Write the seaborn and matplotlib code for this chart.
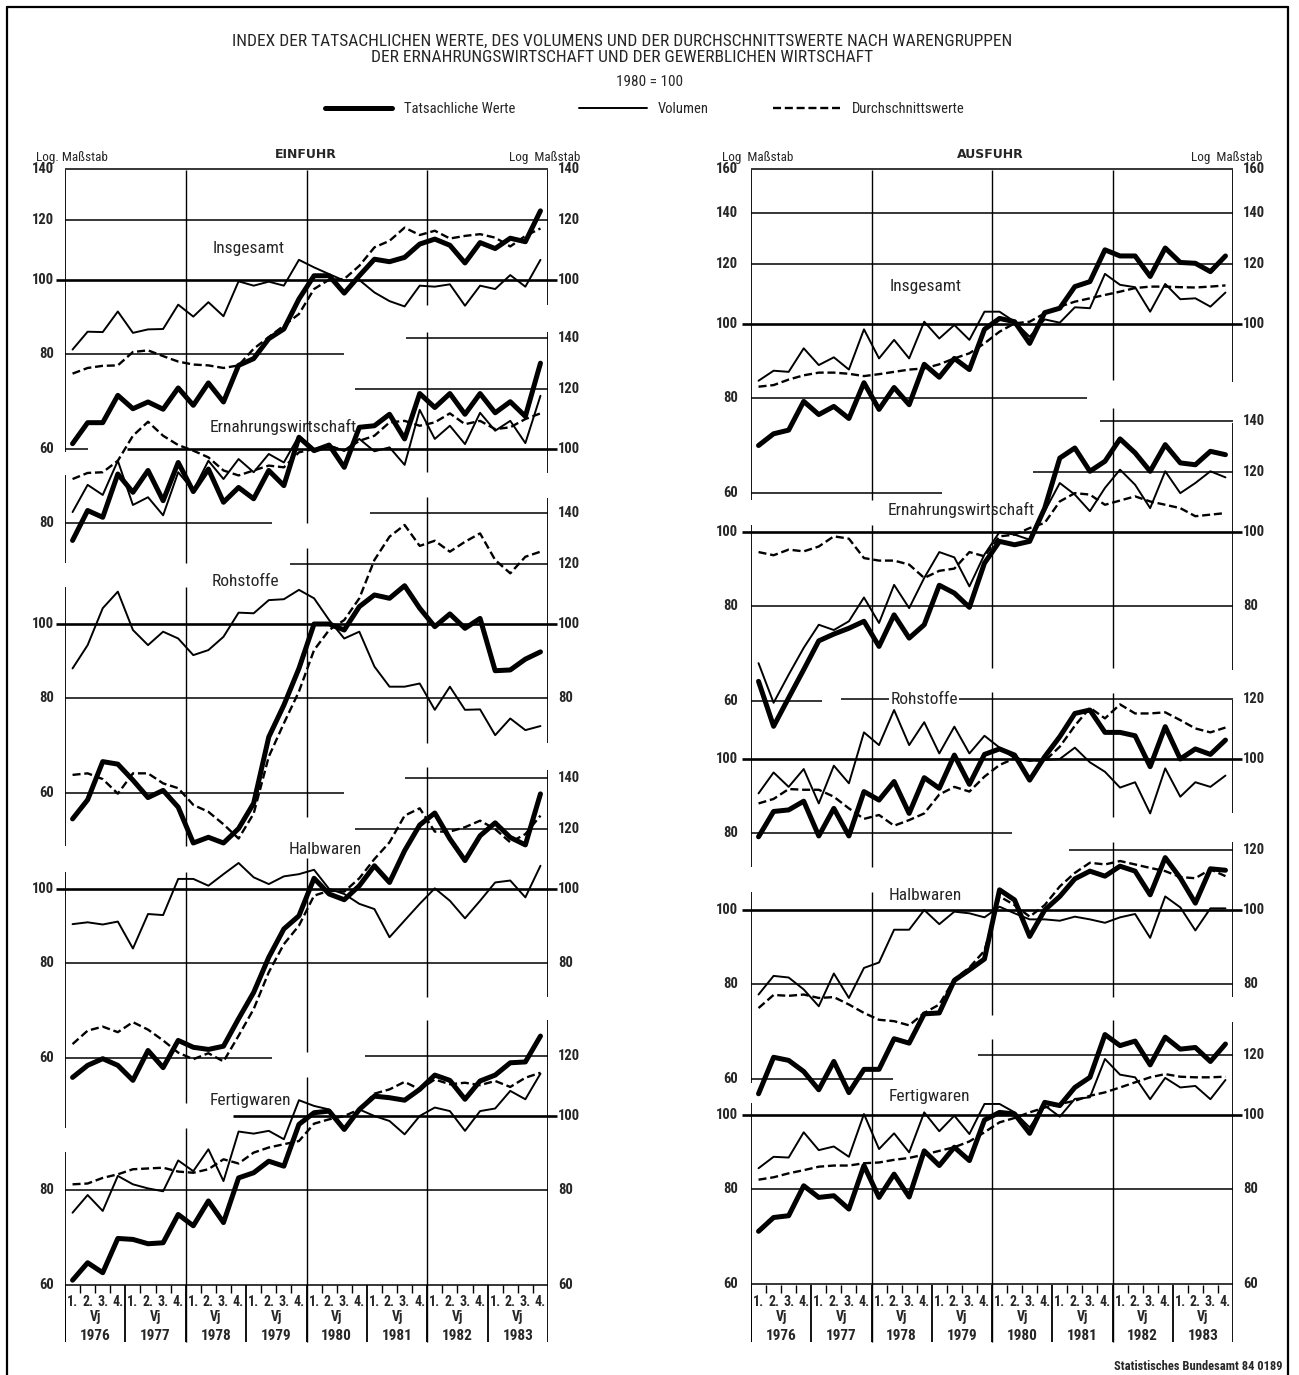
import numpy as np
import pandas as pd
import matplotlib
matplotlib.use("Agg")
import matplotlib.pyplot as plt
import seaborn as sns
from matplotlib.lines import Line2D

sns.set_style("white")
plt.rcParams["font.family"] = ["Liberation Sans Narrow", "Roboto Condensed", "Roboto", "DejaVu Sans"]

# ---------------- data (index 1980 = 100, quarters 1976 Q1 .. 1983 Q4) ----------------
JAHRE = ["1976", "1977", "1978", "1979", "1980", "1981", "1982", "1983"]
QUARTALE = ["1.", "2.", "3.", "4."]
REIHEN = ["Tatsachliche Werte", "Volumen", "Durchschnittswerte"]

# Einfuhr
EIN_INSG_WERT = [60.9, 64.9, 64.9, 70.5, 67.7, 69.1, 67.6, 72.1, 68.4, 73.2, 69.1, 77.2, 78.8, 83.7, 86.2, 94.4,
                 101.3, 101.3, 96.1, 101.3, 106.5, 105.7, 107.1, 111.5, 113.2, 111.1, 105.3, 112.0, 110.0, 113.5, 112.3, 123.3]
EIN_INSG_VOL = [81.0, 85.5, 85.4, 90.9, 85.2, 86.1, 86.2, 92.8, 89.5, 93.5, 89.6, 99.6, 98.3, 99.5, 98.3, 106.3,
                103.9, 101.8, 99.8, 100.0, 96.3, 93.8, 92.3, 98.3, 98.0, 98.7, 92.5, 98.3, 97.3, 101.5, 98.0, 106.3]
EIN_INSG_DURCH = [75.3, 76.6, 77.1, 77.2, 80.4, 80.8, 79.4, 78.1, 77.4, 77.2, 76.6, 77.2, 81.2, 84.1, 87.1, 90.2,
                  97.3, 100.1, 100.3, 104.4, 110.4, 112.6, 117.2, 114.6, 116.1, 113.4, 114.3, 114.9, 113.7, 110.7, 114.3, 116.9]

EIN_ERN_WERT = [75.8, 83.0, 81.3, 92.7, 87.7, 93.7, 85.5, 96.0, 87.9, 94.1, 85.1, 89.0, 86.0, 93.7, 89.5, 103.6,
                99.5, 101.2, 94.6, 106.8, 107.3, 111.1, 103.1, 118.3, 113.4, 118.3, 111.1, 118.3, 111.6, 115.4, 110.4, 129.7]
EIN_ERN_VOL = [82.6, 89.7, 87.0, 96.5, 84.4, 86.4, 81.8, 93.2, 88.2, 96.5, 91.3, 97.0, 93.2, 98.5, 96.0, 104.1,
               100.0, 101.0, 99.5, 103.1, 99.3, 100.5, 95.3, 112.6, 103.1, 107.3, 101.5, 111.6, 105.7, 108.9, 101.8, 117.5]
EIN_ERN_DURCH = [91.3, 93.0, 93.2, 96.5, 104.1, 108.6, 104.1, 101.2, 99.5, 97.5, 93.7, 92.3, 93.7, 95.1, 94.6, 99.0,
                 100.0, 101.0, 99.5, 102.5, 104.1, 108.4, 108.9, 107.3, 108.4, 111.4, 107.8, 108.9, 106.2, 106.8, 109.5, 111.4]

EIN_ROH_WERT = [55.4, 58.7, 65.9, 65.4, 62.3, 59.1, 60.4, 57.4, 51.5, 52.4, 51.5, 53.8, 58.1, 71.0, 78.2, 87.4,
                100.0, 100.0, 98.2, 105.4, 109.2, 108.1, 112.3, 104.9, 99.2, 103.1, 98.7, 101.7, 86.8, 87.0, 89.9, 91.9]
EIN_ROH_VOL = [87.4, 93.8, 104.9, 110.3, 98.2, 93.8, 97.7, 95.7, 91.0, 92.4, 96.2, 103.5, 103.3, 107.5, 107.8, 110.9,
               108.1, 101.2, 95.7, 97.7, 87.9, 82.7, 82.7, 83.5, 77.1, 82.7, 77.1, 77.2, 71.4, 75.1, 72.5, 73.4]
EIN_ROH_DURCH = [63.3, 63.6, 62.5, 59.8, 63.6, 63.6, 61.7, 60.8, 57.8, 56.6, 54.5, 52.2, 56.3, 66.9, 74.0, 81.5,
                 92.4, 98.2, 101.2, 108.1, 121.4, 130.3, 135.0, 126.7, 128.7, 124.5, 128.3, 131.6, 121.4, 116.6, 122.6, 124.5]

EIN_HALB_WERT = [56.5, 58.6, 59.8, 58.6, 56.0, 61.3, 58.2, 63.2, 61.9, 61.5, 62.1, 67.5, 73.1, 81.3, 88.6, 92.2,
                 103.3, 98.5, 96.8, 101.0, 107.3, 102.0, 112.3, 121.4, 125.9, 116.4, 109.0, 117.5, 122.2, 116.9, 114.3, 133.4]
EIN_HALB_VOL = [89.9, 90.4, 89.8, 90.6, 83.5, 92.7, 92.4, 103.1, 103.1, 101.0, 104.6, 108.2, 103.6, 101.5, 103.9, 104.6,
                106.0, 100.0, 98.5, 95.6, 94.1, 86.4, 90.9, 95.6, 100.2, 96.5, 91.5, 96.5, 102.0, 102.6, 97.5, 107.3]
EIN_HALB_DURCH = [62.5, 65.1, 65.9, 64.8, 66.8, 65.3, 63.2, 60.9, 59.7, 60.8, 59.3, 64.1, 69.5, 77.7, 84.6, 89.5,
                  98.0, 99.5, 99.2, 103.3, 109.5, 115.2, 124.9, 127.7, 119.0, 119.0, 120.6, 123.0, 119.9, 115.2, 118.1, 124.9]

EIN_FERT_WERT = [60.8, 64.1, 62.2, 69.0, 68.8, 67.9, 68.1, 74.2, 71.7, 77.3, 72.4, 82.9, 84.2, 87.2, 85.9, 97.5,
                 101.0, 101.5, 96.0, 102.0, 106.2, 105.7, 104.9, 108.4, 113.2, 111.4, 105.2, 111.2, 113.2, 117.5, 117.8, 127.4]
EIN_FERT_VOL = [74.6, 78.7, 75.0, 83.4, 81.3, 80.3, 79.6, 87.4, 84.6, 90.4, 82.1, 95.4, 94.8, 95.6, 93.2, 104.9,
                103.1, 102.0, 96.5, 102.0, 100.0, 98.5, 94.6, 100.0, 102.6, 101.5, 95.6, 101.5, 102.3, 107.9, 105.2, 113.7]
EIN_FERT_DURCH = [81.3, 81.5, 82.9, 83.8, 85.1, 85.3, 85.5, 84.5, 84.2, 85.1, 87.7, 86.6, 89.5, 90.9, 91.8, 92.7,
                  97.7, 99.0, 100.0, 102.0, 107.0, 108.4, 110.9, 108.4, 111.7, 110.1, 110.6, 109.8, 111.2, 109.2, 112.3, 114.0]

# Ausfuhr
AUS_INSG_WERT = [69.2, 71.7, 72.5, 79.1, 76.0, 77.9, 75.1, 83.7, 77.2, 82.5, 78.3, 88.5, 85.1, 90.1, 87.1, 98.4,
                 101.7, 100.7, 94.3, 103.5, 104.9, 112.0, 113.7, 125.2, 122.9, 122.9, 115.5, 125.9, 120.5, 120.2, 117.2, 122.9]
AUS_INSG_VOL = [84.2, 86.8, 86.5, 92.9, 88.3, 90.4, 87.1, 98.4, 90.1, 95.3, 90.1, 100.7, 95.7, 99.7, 95.3, 103.8,
                103.8, 100.7, 96.2, 101.4, 100.4, 105.2, 104.9, 116.4, 112.6, 111.8, 103.8, 112.9, 107.8, 108.1, 105.4, 110.0]
AUS_INSG_DURCH = [82.7, 83.1, 84.5, 85.6, 86.3, 86.3, 86.0, 85.4, 85.9, 86.5, 87.1, 87.4, 88.5, 90.1, 91.5, 94.3,
                  97.7, 100.2, 100.7, 103.3, 105.4, 107.0, 108.1, 109.2, 110.3, 111.5, 112.0, 112.0, 111.8, 111.7, 112.0, 112.4]

AUS_ERN_WERT = [63.6, 55.5, 60.5, 65.9, 71.9, 73.4, 74.7, 76.3, 70.7, 77.8, 72.5, 75.5, 85.1, 83.1, 79.6, 91.0,
                97.2, 96.2, 97.2, 107.5, 125.1, 129.0, 120.2, 123.9, 132.6, 127.1, 120.2, 130.3, 123.3, 122.6, 127.7, 126.4]
AUS_ERN_VOL = [67.2, 59.6, 64.9, 70.4, 75.5, 74.3, 76.3, 82.0, 75.9, 85.2, 79.4, 87.0, 94.1, 92.6, 84.8, 93.4,
               100.0, 99.2, 97.7, 106.5, 116.0, 112.0, 106.5, 114.3, 120.8, 115.4, 107.5, 120.2, 112.5, 116.0, 120.2, 118.0]
AUS_ERN_DURCH = [94.1, 93.2, 94.8, 94.3, 95.7, 98.7, 98.0, 92.4, 91.7, 91.7, 90.6, 87.0, 88.9, 89.5, 94.1, 92.9,
                 98.7, 99.2, 101.2, 102.8, 109.7, 112.5, 112.0, 108.6, 110.0, 111.4, 109.7, 108.6, 107.5, 104.9, 105.4, 105.9]

AUS_ROH_WERT = [79.0, 85.3, 85.7, 88.0, 79.2, 86.1, 79.2, 90.6, 88.3, 93.4, 84.8, 94.5, 91.5, 101.2, 92.6, 101.4,
                103.1, 101.2, 93.8, 100.7, 107.0, 114.8, 116.0, 108.4, 108.4, 107.3, 97.7, 110.3, 100.0, 103.1, 101.4, 105.9]
AUS_ROH_VOL = [90.1, 96.0, 91.9, 97.0, 87.4, 98.0, 92.9, 108.4, 104.3, 116.0, 104.3, 111.8, 101.7, 110.3, 101.7, 107.3,
               103.5, 100.2, 99.4, 99.7, 100.0, 103.5, 99.0, 96.2, 91.7, 93.2, 84.8, 97.2, 89.2, 93.2, 91.9, 95.1]
AUS_ROH_DURCH = [87.4, 88.6, 91.3, 91.1, 91.1, 89.2, 86.1, 83.4, 84.4, 81.7, 83.1, 84.8, 89.8, 91.9, 90.6, 94.8,
                 98.2, 100.2, 99.7, 99.4, 103.8, 110.6, 116.8, 113.1, 118.0, 114.8, 114.8, 115.2, 112.5, 109.7, 108.4, 110.0]

AUS_HALB_WERT = [57.3, 64.0, 63.4, 61.3, 58.0, 63.2, 57.5, 61.7, 61.7, 67.7, 66.8, 73.0, 73.2, 80.8, 83.4, 86.2,
                 106.3, 103.1, 92.3, 100.0, 104.2, 109.9, 112.5, 110.8, 114.2, 112.5, 104.7, 117.2, 110.2, 102.1, 113.3, 112.8]
AUS_HALB_VOL = [77.4, 81.9, 81.5, 78.6, 74.7, 82.5, 76.6, 83.9, 85.3, 94.2, 94.2, 100.0, 95.8, 99.5, 99.0, 97.8,
                101.0, 99.0, 97.2, 97.2, 96.8, 98.0, 97.2, 96.2, 97.8, 98.8, 91.9, 104.2, 100.8, 94.0, 100.5, 100.5]
AUS_HALB_DURCH = [74.3, 77.3, 77.1, 77.4, 76.6, 76.8, 75.1, 73.2, 71.7, 71.4, 70.5, 73.2, 75.1, 81.1, 84.0, 88.4,
                  104.2, 101.5, 98.0, 101.5, 107.4, 111.9, 115.4, 114.8, 116.0, 114.8, 113.6, 112.5, 110.5, 110.1, 113.1, 110.8]

AUS_FERT_WERT = [70.3, 73.3, 73.7, 80.7, 77.9, 78.3, 75.2, 85.8, 77.9, 83.6, 78.0, 89.7, 85.8, 90.7, 87.1, 98.5,
                 100.8, 100.3, 94.6, 103.9, 102.9, 108.7, 112.1, 127.6, 123.4, 125.1, 116.4, 126.6, 122.1, 122.7, 117.6, 124.0]
AUS_FERT_VOL = [85.1, 88.1, 87.9, 94.9, 89.9, 90.9, 88.1, 100.3, 90.2, 94.6, 89.3, 100.8, 95.2, 99.8, 94.4, 103.4,
                103.4, 100.8, 96.3, 102.9, 99.5, 105.0, 105.5, 118.5, 113.0, 112.1, 104.9, 111.9, 108.7, 109.2, 104.9, 111.2]
AUS_FERT_DURCH = [82.2, 82.8, 83.8, 84.6, 85.5, 85.8, 85.8, 86.4, 86.6, 87.3, 87.8, 88.7, 89.7, 90.7, 92.3, 94.9,
                  97.8, 99.1, 100.8, 102.3, 103.4, 104.4, 106.0, 107.1, 108.7, 110.4, 112.1, 113.2, 112.3, 112.1, 112.1, 112.3]

# ---------------- layout ----------------
W, H = 1299, 1375
K = 330.0            # pixels per ln-unit of the log scale
TOP, BOT, XBOT = 170, 1285, 1345

SIZES = {"Tatsachliche Werte": 3.6, "Volumen": 1.4, "Durchschnittswerte": 1.7}
DASHES = {"Tatsachliche Werte": "", "Volumen": "", "Durchschnittswerte": (3.4, 1.6)}


def fx(px):
    return px / W


def fy(py):
    return 1 - py / H


EIN_GRUPPEN = [
    ("Insgesamt", EIN_INSG_WERT, EIN_INSG_VOL, EIN_INSG_DURCH,
     dict(p100=280, grid=[(140, 0, 32), (120, 0, 32), (100, -0.6, 32.6), (80, 0, 18.5), (60, 0, 1.5)],
          left=[140, 120, 100, 80, 60], right=[140, 120, 100], pos=(249, 248))),
    ("Ernahrungswirtschaft", EIN_ERN_WERT, EIN_ERN_VOL, EIN_ERN_DURCH,
     dict(p100=449, grid=[(140, 22.6, 32), (120, 19.2, 32), (100, 4.1, 32.6), (80, 0, 13.7)],
          left=[80], right=[140, 120, 100], pos=(283, 427))),
    ("Rohstoffe", EIN_ROH_WERT, EIN_ROH_VOL, EIN_ROH_DURCH,
     dict(p100=624, grid=[(140, 20.2, 32), (120, 14.9, 32), (100, -0.6, 32.6), (80, 0, 32), (60, 0, 18.5)],
          left=[100, 80, 60], right=[140, 120, 100, 80], pos=(245, 581))),
    ("Halbwaren", EIN_HALB_WERT, EIN_HALB_VOL, EIN_HALB_DURCH,
     dict(p100=889, grid=[(140, 22.5, 32), (120, 19.2, 32), (100, -0.6, 32.6), (80, 0, 32), (60, 0, 13.7)],
          left=[100, 80, 60], right=[140, 120, 100, 80], pos=(325, 849))),
    ("Fertigwaren", EIN_FERT_WERT, EIN_FERT_VOL, EIN_FERT_DURCH,
     dict(p100=1116, grid=[(120, 19.9, 32), (100, 11.1, 32.6), (80, 0, 32), (60, 0, 32)],
          left=[80, 60], right=[120, 100, 80, 60], pos=(250, 1100))),
]

AUS_GRUPPEN = [
    ("Insgesamt", AUS_INSG_WERT, AUS_INSG_VOL, AUS_INSG_DURCH,
     dict(p100=324, grid=[(160, 0, 32), (140, 0, 32), (120, 0, 32), (100, -0.6, 32.6), (80, 0, 22.3), (60, 0, 12.7)],
          left=[160, 140, 120, 100, 80, 60], right=[160, 140, 120, 100], pos=(926, 287))),
    ("Ernahrungswirtschaft", AUS_ERN_WERT, AUS_ERN_VOL, AUS_ERN_DURCH,
     dict(p100=532, grid=[(140, 23.2, 32), (120, 18.7, 32), (100, -0.6, 32.6), (80, 0, 32), (60, 0, 4.7)],
          left=[100, 80, 60], right=[140, 120, 100, 80], pos=(961, 510))),
    ("Rohstoffe", AUS_ROH_WERT, AUS_ROH_VOL, AUS_ROH_DURCH,
     dict(p100=759, grid=[(120, 6.0, 32), (100, -0.6, 32.6), (80, 0, 17.3)],
          left=[100, 80], right=[120, 100], pos=(924, 699))),
    ("Halbwaren", AUS_HALB_WERT, AUS_HALB_VOL, AUS_HALB_DURCH,
     dict(p100=910, grid=[(120, 21.1, 32), (100, -0.6, 32.6), (80, 0, 32), (60, 0, 9.4)],
          left=[100, 80, 60], right=[120, 100, 80], pos=(925, 895))),
    ("Fertigwaren", AUS_FERT_WERT, AUS_FERT_VOL, AUS_FERT_DURCH,
     dict(p100=1115, grid=[(120, 15.1, 32), (100, -0.6, 32.6), (80, 0, 32), (60, 0, 32)],
          left=[100, 80, 60], right=[120, 100, 80, 60], pos=(929, 1096))),
]

# broken vertical frame / grid segments (pixel rows) per quarter position
EIN_VSEG = {0: [(170, 452), (475, 563), (587, 846), (872, 1128), (1152, 1342)],
            8: [(170, 563), (587, 846), (872, 1103), (1128, 1342)],
            16: [(170, 523), (548, 817), (858, 1052), (1077, 1342)],
            24: [(170, 305), (332, 472), (497, 743), (767, 997), (1020, 1342)],
            32: [(170, 305), (332, 473), (498, 743), (770, 997), (1020, 1342)]}
AUS_VSEG = {0: [(170, 500), (525, 867), (892, 1083), (1103, 1342)],
            8: [(170, 500), (525, 867), (892, 1342)],
            16: [(170, 668), (692, 1015), (1039, 1342)],
            24: [(170, 380), (408, 668), (693, 817), (842, 997), (1020, 1342)],
            32: [(170, 382), (423, 670), (700, 813), (842, 997), (1022, 1342)]}

fig = plt.figure(figsize=(W / 100, H / 100), dpi=100)
X = np.arange(32) + 0.5


def panel(x0, x1, gruppen, vseg, titel, titel_x, lab_l):
    # frame axes in pixel rows: vertical lines and the quarter / year axis
    fr = fig.add_axes([fx(x0), fy(XBOT), fx(x1) - fx(x0), (XBOT - TOP) / H])
    fr.set_xlim(0, 32)
    fr.set_ylim(XBOT, TOP)
    fr.axis("off")
    for q, segs in vseg.items():
        for a, b in segs:
            fr.vlines(q, a, b, color="black", lw=1.3 if q in (0, 32) else 1.0)
    for j, jahr in enumerate(JAHRE):
        fr.vlines(4 * j, BOT, 1342, color="black", lw=1.3)
        for k, ql in enumerate(QUARTALE):
            if k:
                fr.vlines(4 * j + k, BOT, BOT + 8, color="black", lw=1.0)
            fr.text(4 * j + k + 0.5, 1302, ql, ha="center", va="center", fontsize=10, fontweight="bold")
        fr.text(4 * j + 2, 1317, "Vj", ha="center", va="center", fontsize=10, fontweight="bold")
        fr.text(4 * j + 2, 1336, jahr, ha="center", va="center", fontsize=11, fontweight="bold")

    for name, werte, vol, durch, lay in gruppen:
        ax = fig.add_axes([fx(x0), fy(BOT), fx(x1) - fx(x0), (BOT - TOP) / H])
        ax.patch.set_alpha(0)
        ax.set_yscale("log")
        df = pd.DataFrame({"quartal": np.tile(X, 3),
                           "index": werte + vol + durch,
                           "reihe": np.repeat(REIHEN, 32)})
        for v, a, b in lay["grid"]:
            ax.hlines(v, a, b, color="black", lw=1.9 if v == 100 else 1.1, clip_on=False)
        sns.lineplot(data=df, x="quartal", y="index", size="reihe", style="reihe",
                     sizes=SIZES, dashes=DASHES, color="black", legend=False,
                     estimator=None, sort=False, ax=ax, solid_joinstyle="round")
        p = lay["p100"]
        ax.set_ylim(100 * np.exp(-(BOT - p) / K), 100 * np.exp((p - TOP) / K))
        ax.set_xlim(0, 32)
        ax.axis("off")
        for v in lay["left"]:
            ax.text(lab_l, v, str(v), ha="right", va="center", fontsize=10.5,
                    fontweight="bold", clip_on=False)
        for v in lay["right"]:
            ax.text(32.65, v, str(v), ha="left", va="center", fontsize=10.5,
                    fontweight="bold", clip_on=False)
        bbox = dict(facecolor="white", edgecolor="none", pad=1) if name == "Rohstoffe" and x0 > 600 else None
        fig.text(fx(lay["pos"][0]), fy(lay["pos"][1]), name, ha="center", va="center",
                 fontsize=12.5, bbox=bbox)

    fig.text(fx(titel_x), fy(155), titel, ha="center", va="center", fontsize=9,
             fontweight="bold", family="DejaVu Sans")


panel(65, 548, EIN_GRUPPEN, EIN_VSEG, "EINFUHR", 306, -0.7)
panel(751, 1233, AUS_GRUPPEN, AUS_VSEG, "AUSFUHR", 990, -0.85)

# scale notes
fig.text(fx(36), fy(157), "Log. Maßstab", ha="left", va="center", fontsize=9.5)
fig.text(fx(580), fy(157), "Log  Maßstab", ha="right", va="center", fontsize=9.5)
fig.text(fx(722), fy(157), "Log  Maßstab", ha="left", va="center", fontsize=9.5)
fig.text(fx(1262), fy(157), "Log  Maßstab", ha="right", va="center", fontsize=9.5)

# titles
fig.text(fx(622), fy(41), "INDEX DER TATSACHLICHEN WERTE, DES VOLUMENS UND DER DURCHSCHNITTSWERTE NACH WARENGRUPPEN",
         ha="center", va="center", fontsize=12.5)
fig.text(fx(622), fy(57), "DER ERNAHRUNGSWIRTSCHAFT UND DER GEWERBLICHEN WIRTSCHAFT",
         ha="center", va="center", fontsize=12.5)
fig.text(fx(650), fy(82), "1980 = 100", ha="center", va="center", fontsize=11)

handles = [Line2D([], [], color="black", lw=SIZES[r],
                  linestyle=(0, DASHES[r]) if DASHES[r] else "-") for r in REIHEN]
fig.legend(handles, REIHEN, loc="center", bbox_to_anchor=(fx(645), fy(109)), ncol=3,
           frameon=False, handlelength=4.6, columnspacing=4.4, handletextpad=0.8, fontsize=10.5)

fig.text(fx(1282), fy(1367), "Statistisches Bundesamt 84 0189", ha="right", va="center",
         fontsize=9, fontweight="bold")

# outer frame
for xs, ys in [((7, 7), (7, 1380)), ((7, 1288), (7, 7)), ((1288, 1288), (7, 1380))]:
    fig.add_artist(Line2D([fx(v) for v in xs], [fy(v) for v in ys], color="black", lw=1.6,
                          transform=fig.transFigure))

fig.savefig("out.png", dpi=100, facecolor="white")
